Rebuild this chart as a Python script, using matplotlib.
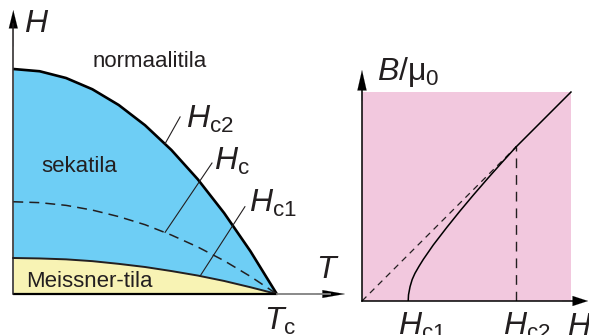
import matplotlib
matplotlib.use("Agg")
import matplotlib.pyplot as plt
from matplotlib.patches import FancyArrowPatch, Rectangle

plt.rcParams['font.family'] = ['Liberation Sans', 'DejaVu Sans']
plt.rcParams['mathtext.fontset'] = 'custom'
plt.rcParams['mathtext.rm'] = 'Liberation Sans'
plt.rcParams['mathtext.it'] = 'Liberation Sans:italic'

# faasidiagrammi: T/Tc ja kriittiset kentat (Hc2(0) = 1)
t = [0.0, 0.1, 0.2, 0.3, 0.4, 0.5, 0.6, 0.7, 0.8, 0.9, 1.0]
hc2 = [1.00, 0.99, 0.96, 0.91, 0.84, 0.75, 0.64, 0.51, 0.36, 0.19, 0.00]
hc = [0.41, 0.406, 0.394, 0.373, 0.344, 0.308, 0.262, 0.209, 0.148, 0.078, 0.0]
hc1 = [0.160, 0.158, 0.154, 0.146, 0.134, 0.120, 0.102, 0.082, 0.058, 0.030, 0.0]

# magnetoitumiskayra: H / Hc2 ja B/mu0 / Hc2
h_curve = [0.300, 0.302, 0.312, 0.326, 0.344, 0.370, 0.398, 0.463, 0.550,
           0.636, 0.723, 0.820, 0.910, 1.0]
b_curve = [0.000, 0.040, 0.093, 0.140, 0.180, 0.225, 0.270, 0.364, 0.477,
           0.584, 0.688, 0.800, 0.901, 1.0]
h_max = 1.357

blue = '#6ECEF5'
yellow = '#F8F3B4'
pink = '#F2C8DE'
ink = '#231F20'

W, H = 589, 335
fig = plt.figure(figsize=(W / 100, H / 100), dpi=100)


def arrow(ax, p0, p1, color, lw, hl, hw):
    a = FancyArrowPatch(p0, p1, arrowstyle=f'-|>,head_length={hl},head_width={hw}',
                        mutation_scale=1, color=color, lw=lw,
                        shrinkA=0, shrinkB=0, clip_on=False)
    ax.add_patch(a)


# ---- vasen paneeli ----
ax = fig.add_axes([13.3 / W, (H - 294) / H, (345 - 13.3) / W, (294 - 10) / H])
ax.set_xlim(0, (345 - 13.3) / 263.5)
ax.set_ylim(0, (294 - 10) / 225)
ax.axis('off')

ax.fill_between(t, hc1, hc2, color=blue, lw=0)
ax.fill_between(t, 0, hc1, color=yellow, lw=0)
ax.plot(t, hc2, color='black', lw=1.9, clip_on=False, solid_capstyle='butt')
ax.plot(t, hc1, color=ink, lw=1.4, clip_on=False)
ax.plot(t, hc, color=ink, lw=1.1, ls=(0, (6.5, 4)), clip_on=False)

# akselit
ax.plot([0, 1], [0, 0], color='black', lw=1.6, clip_on=False, solid_capstyle='butt')
ax.plot([1, 1.2], [0, 0], color='#808080', lw=1.3, clip_on=False)
arrow(ax, (1.15, 0), (1.259, 0), 'black', 0.1, 16, 2.8)
ax.plot([0, 0], [0, 1.2], color=ink, lw=1.1, clip_on=False)
arrow(ax, (0, 1.1), (0, 1.262), 'black', 0.1, 13, 3.2)

# selitteiden viivat
ax.plot([0.576, 0.633], [0.668, 0.787], color=ink, lw=0.8)
ax.plot([0.576, 0.754], [0.274, 0.582], color=ink, lw=0.8)
ax.plot([0.709, 0.879], [0.080, 0.388], color=ink, lw=0.8)

big = 23
ax.text(0.042, 1.165, r'$H$', fontsize=big, color=ink, va='baseline')
ax.text(0.655, 0.738, r'$H_\mathrm{c2}$', fontsize=big, color=ink, va='baseline')
ax.text(0.760, 0.551, r'$H_\mathrm{c}$', fontsize=big, color=ink, va='baseline')
ax.text(0.896, 0.364, r'$H_\mathrm{c1}$', fontsize=big, color=ink, va='baseline')
ax.text(1.150, 0.071, r'$T$', fontsize=big, color=ink, va='baseline')
ax.text(0.950, -0.16, r'$T_\mathrm{c}$', fontsize=big, color=ink, va='baseline')

small = 16
ax.text(0.519, 1.009, 'normaalitila', fontsize=small, color=ink, ha='center', va='baseline')
ax.text(0.249, 0.544, 'sekatila', fontsize=small, color=ink, ha='center', va='baseline')
ax.text(0.29, 0.031, 'Meissner-tila', fontsize=small, color=ink, ha='center', va='baseline')

# ---- oikea paneeli ----
ax2 = fig.add_axes([362 / W, (H - 301) / H, (588 - 362) / W, (301 - 70) / H])
ax2.set_xlim(0, (588 - 362) / 154)
ax2.set_ylim(0, (301 - 70) / 154)
ax2.axis('off')

ax2.add_patch(Rectangle((0, 0), h_max, h_max, color=pink, lw=0))
ax2.plot([0, 1], [0, 1], color=ink, lw=0.9, ls=(0, (5, 4)))
ax2.plot([1, 1], [0, 1], color=ink, lw=1.0, ls=(0, (7, 5)))
ax2.plot(h_curve, b_curve, color='black', lw=1.1)
ax2.plot([1, h_max], [1, h_max], color='black', lw=1.1)

ax2.plot([0, 0], [0, 1.45], color='black', lw=1.1, clip_on=False)
arrow(ax2, (0, 1.3), (0, 1.5), 'black', 0.1, 14.5, 3.3)
ax2.plot([0, 1.42], [0, 0], color='black', lw=1.1, clip_on=False)
arrow(ax2, (1.3, 0), (1.468, 0), 'black', 0.1, 11, 3.6)

ax2.text(0.097, 1.435, r'$B/\mathrm{\mu}_0$', fontsize=big, color=ink, va='baseline')
ax2.text(0.234, -0.22, r'$H_\mathrm{c1}$', fontsize=big, color=ink, va='baseline')
ax2.text(0.916, -0.22, r'$H_\mathrm{c2}$', fontsize=big, color=ink, va='baseline')
ax2.text(1.329, -0.22, r'$H$', fontsize=big, color=ink, va='baseline')

fig.savefig('out.png', dpi=100)
